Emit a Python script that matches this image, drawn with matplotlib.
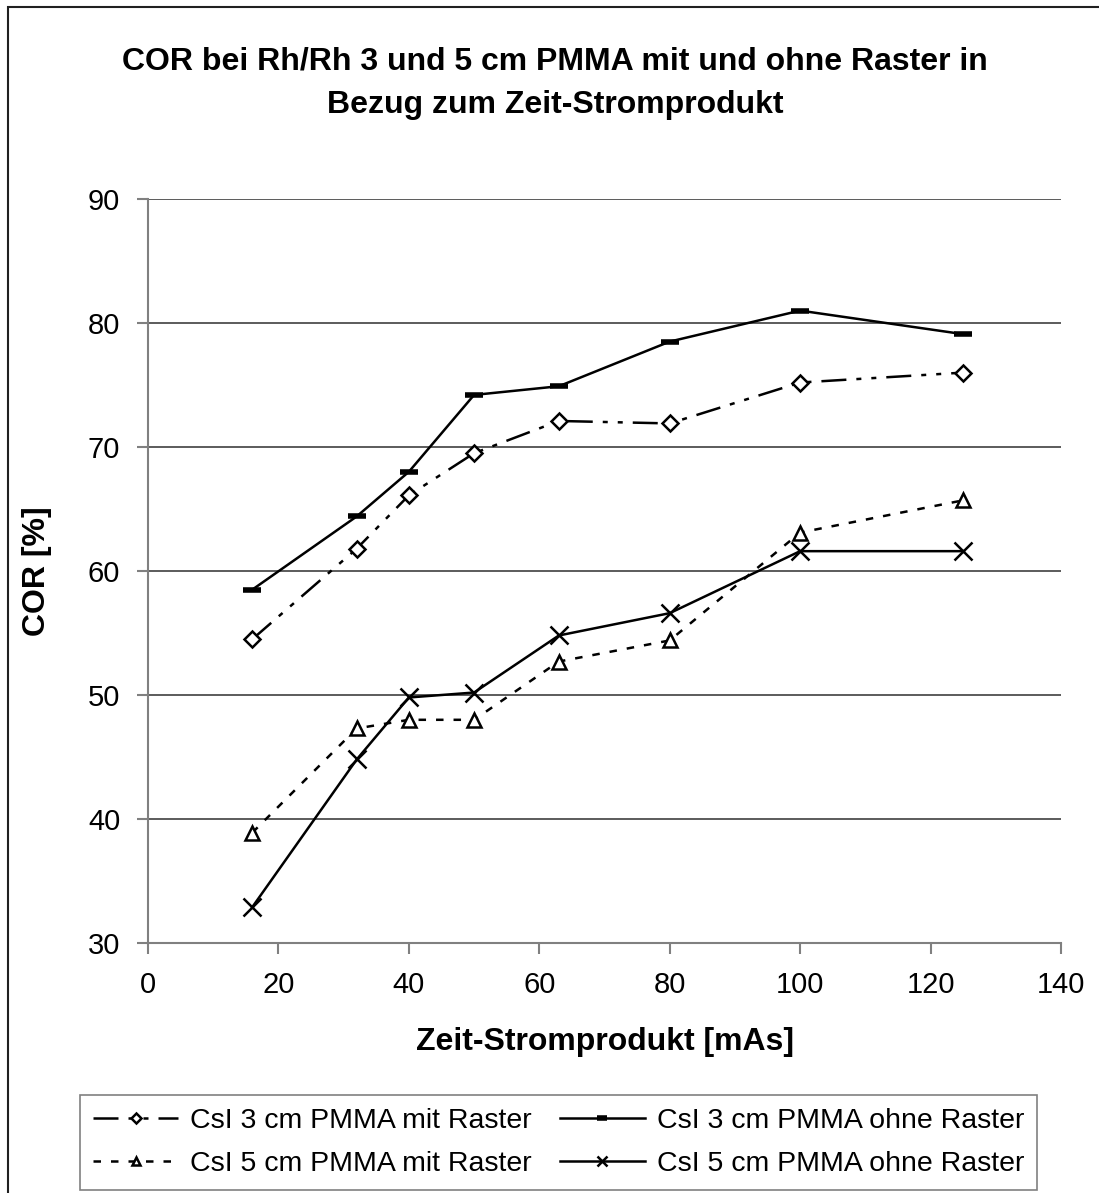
import matplotlib.pyplot as plt
from matplotlib.patches import Rectangle

plt.rcParams['font.family'] = ['Liberation Sans', 'DejaVu Sans']

# Zeit-Stromprodukt [mAs]
mas = [16, 32, 40, 50, 63, 80, 100, 125]

# COR [%] je Messreihe
cor_3cm_mit = [54.5, 61.8, 66.1, 69.5, 72.1, 71.9, 75.2, 76.0]
cor_3cm_ohne = [58.5, 64.4, 68.0, 74.2, 74.9, 78.5, 81.0, 79.1]
cor_5cm_mit = [38.9, 47.3, 48.0, 48.0, 52.7, 54.4, 63.1, 65.7]
cor_5cm_ohne = [32.9, 44.8, 49.8, 50.2, 54.8, 56.6, 61.6, 61.6]

labels = [
    "CsI 3 cm PMMA mit Raster",
    "CsI 3 cm PMMA ohne Raster",
    "CsI 5 cm PMMA mit Raster",
    "CsI 5 cm PMMA ohne Raster",
]

fig = plt.figure(figsize=(10.99, 11.93), dpi=100)
ax = fig.add_axes([148 / 1099, 1 - 943 / 1193, (1061 - 148) / 1099, (943 - 199) / 1193])

l1, = ax.plot(mas, cor_3cm_mit, color='black', lw=1.8, dashes=(10, 4, 2, 4, 2, 4),
              marker='D', ms=8, mfc='white', mec='black', mew=1.8, label=labels[0])
l2, = ax.plot(mas, cor_3cm_ohne, color='black', lw=1.8, ls='-',
              marker='_', ms=13, mec='black', mew=4, label=labels[1])
l3, = ax.plot(mas, cor_5cm_mit, color='black', lw=1.8, dashes=(3, 4),
              marker='^', ms=10, mfc='white', mec='black', mew=1.8, label=labels[2])
l4, = ax.plot(mas, cor_5cm_ohne, color='black', lw=1.8, ls='-',
              marker='x', ms=13, mec='black', mew=1.8, label=labels[3])

ax.set_xlim(0, 140)
ax.set_ylim(30, 90)
ax.set_xticks(range(0, 141, 20))
ax.set_yticks(range(30, 91, 10))
ax.yaxis.grid(True, color='#404040', lw=1.2)
ax.set_axisbelow(True)
for side in ('top', 'right'):
    ax.spines[side].set_visible(False)
for side in ('left', 'bottom'):
    ax.spines[side].set_color('#808080')
    ax.spines[side].set_linewidth(1.5)
ax.tick_params(direction='out', length=8, width=1.5, color='#808080',
               labelsize=21, pad=12)

ax.set_xlabel("Zeit-Stromprodukt [mAs]", fontsize=23, fontweight='bold', labelpad=20)
ax.set_ylabel("COR [%]", fontsize=23, fontweight='bold', labelpad=26)

fig.text(0.505, 1 - 62 / 1193, "COR bei Rh/Rh 3 und 5 cm PMMA mit und ohne Raster in",
         ha='center', va='center', fontsize=23, fontweight='bold')
fig.text(0.505, 1 - 105 / 1193, "Bezug zum Zeit-Stromprodukt",
         ha='center', va='center', fontsize=23, fontweight='bold')

# Rahmen um das Diagramm (rechts und unten abgeschnitten)
fig.patches.append(Rectangle((8 / 1099, -0.1), 1.5, 1 - 7 / 1193 + 0.1,
                             transform=fig.transFigure, fill=False,
                             edgecolor='#202020', lw=1.5))

leg = fig.legend([l1, l3, l2, l4], [labels[0], labels[2], labels[1], labels[3]],
                 ncol=2, loc='upper left',
                 bbox_to_anchor=(80 / 1099, 1 - 1095 / 1193), borderaxespad=0,
                 fontsize=20.5, frameon=True, fancybox=False,
                 handlelength=3.0, handletextpad=0.4, columnspacing=1.0,
                 borderpad=0.45, labelspacing=0.6, markerscale=0.6)
leg.get_frame().set_edgecolor('#606060')
leg.get_frame().set_linewidth(1.2)

fig.savefig("out.png", dpi=100)
